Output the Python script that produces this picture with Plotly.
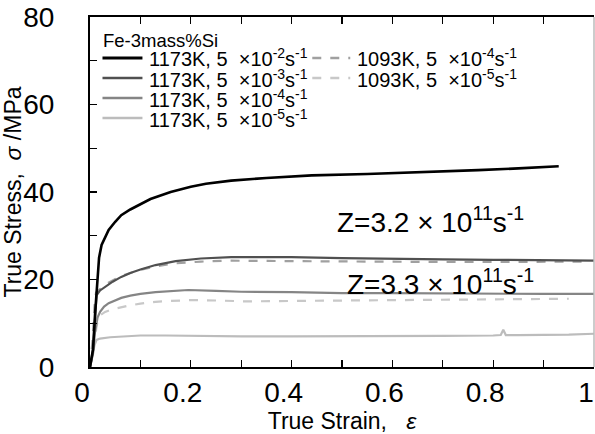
import plotly.graph_objects as go

# ---- data ----
eps_a = [0, 0.006, 0.010, 0.014, 0.018, 0.023, 0.03, 0.037, 0.05, 0.062, 0.08, 0.096, 0.12, 0.16, 0.2, 0.23, 0.28, 0.35, 0.44, 0.55, 0.64, 0.77, 0.85, 0.93]
sig_a = [0, 4, 12, 20, 25, 27.9, 29.8, 31.3, 33.2, 34.7, 36.0, 37.0, 38.4, 40.0, 41.2, 41.9, 42.6, 43.2, 43.8, 44.1, 44.4, 45.0, 45.4, 45.9]

eps_b = [0, 0.006, 0.010, 0.013, 0.02, 0.03, 0.045, 0.062, 0.08, 0.10, 0.13, 0.17, 0.22, 0.28, 0.4, 0.5, 0.6, 0.7, 0.8, 0.9, 1.0]
sig_b = [0, 4, 11, 16.4, 17.5, 18.3, 19.5, 20.6, 21.5, 22.3, 23.3, 24.2, 24.8, 25.1, 25.1, 24.9, 24.7, 24.6, 24.5, 24.4, 24.3]

eps_c = [0, 0.006, 0.010, 0.015, 0.02, 0.028, 0.037, 0.05, 0.062, 0.08, 0.10, 0.13, 0.16, 0.195, 0.25, 0.3, 0.4, 0.5, 0.6, 0.7, 0.8, 0.9, 1.0]
sig_c = [0, 3, 8, 11.3, 12.6, 13.8, 14.6, 15.3, 15.8, 16.3, 16.7, 17.1, 17.4, 17.6, 17.4, 17.2, 17.1, 16.9, 16.9, 16.8, 16.8, 16.7, 16.7]

eps_d = [0, 0.005, 0.009, 0.013, 0.02, 0.04, 0.07, 0.1, 0.15, 0.2, 0.3, 0.4, 0.5, 0.6, 0.7, 0.8, 0.815, 0.82, 0.825, 0.85, 0.9, 0.95, 1.0]
sig_d = [0, 2.5, 5, 6.2, 6.5, 6.8, 7.0, 7.2, 7.2, 7.1, 7.0, 7.0, 7.0, 7.1, 7.1, 7.2, 7.3, 8.5, 7.3, 7.3, 7.3, 7.4, 7.6]

eps_e = [0, 0.005, 0.009, 0.012, 0.02, 0.03, 0.045, 0.06, 0.08, 0.10, 0.13, 0.17, 0.22, 0.28, 0.4, 0.5, 0.6, 0.7, 0.8, 0.9, 0.99]
sig_e = [0, 6, 14, 17, 17.8, 18.8, 19.8, 20.7, 21.5, 22.2, 23.0, 23.7, 24.1, 24.3, 24.2, 24.1, 24.0, 24.0, 24.0, 24.0, 24.1]

eps_f = [0, 0.006, 0.010, 0.015, 0.02, 0.03, 0.045, 0.062, 0.08, 0.10, 0.13, 0.16, 0.2, 0.25, 0.31, 0.4, 0.5, 0.6, 0.7, 0.8, 0.9, 0.95]
sig_f = [0, 3, 7, 10.5, 11.8, 12.6, 13.2, 13.7, 14.1, 14.5, 14.9, 15.1, 15.3, 15.2, 15.0, 15.1, 15.2, 15.3, 15.3, 15.4, 15.5, 15.6]

names = [
    "1173K, 5  \u00d710<sup>-2</sup>s<sup>-1</sup>",
    "1173K, 5  \u00d710<sup>-3</sup>s<sup>-1</sup>",
    "1173K, 5  \u00d710<sup>-4</sup>s<sup>-1</sup>",
    "1173K, 5  \u00d710<sup>-5</sup>s<sup>-1</sup>",
    "1093K, 5  \u00d710<sup>-4</sup>s<sup>-1</sup>",
    "1093K, 5  \u00d710<sup>-5</sup>s<sup>-1</sup>",
]
legend_title = "Fe-3mass%Si"
z_labels = ["Z=3.2 \u00d7 10<sup>11</sup>s<sup>-1</sup>", "Z=3.3 \u00d7 10<sup>11</sup>s<sup>-1</sup>"]
z_pos = [(0.675, 33.6), (0.695, 19.4)]

FONT = "Liberation Sans, Arial, sans-serif"

colors = ["#000000", "#505050", "#858585", "#bcbcbc", "#a0a0a0", "#c8c8c8"]
dashes = ["solid", "solid", "solid", "solid", "dash", "dash"]
widths = [2.6, 2.2, 2.2, 2.2, 2.2, 2.2]
xs = [eps_a, eps_b, eps_c, eps_d, eps_e, eps_f]
ys = [sig_a, sig_b, sig_c, sig_d, sig_e, sig_f]

# plot-area geometry (pixels) used to place the hand-built legend
L, R, T, B = 89.5, 594.0, 17.0, 367.0
def px(x):
    return (x - L) / (R - L)
def py(y):
    return (B - y) / (B - T)

fig = go.Figure()
for i in [3, 5, 2, 4, 1, 0]:
    fig.add_trace(go.Scatter(
        x=xs[i], y=ys[i], mode="lines", name=names[i], showlegend=False,
        line=dict(color=colors[i], width=widths[i], dash=dashes[i]),
    ))

for txt, (zx, zy) in zip(z_labels, z_pos):
    fig.add_annotation(x=zx, y=zy, xref="x", yref="y", text=txt, showarrow=False,
                       font=dict(family=FONT, size=28, color="black"))

# legend (two columns) built from names/colours
LEG_FS = 20
fig.add_annotation(x=px(101), y=py(40), xref="paper", yref="paper", text=legend_title,
                   showarrow=False, xanchor="left", yanchor="middle",
                   font=dict(family=FONT, size=18.5, color="black"))
col_pos = [(102, 142, 147, 58), (102, 142, 147, 78), (102, 142, 147, 98), (102, 142, 147, 118),
           (312, 350, 355, 58), (312, 350, 355, 78)]
for i, (x0, x1, xt, yy) in enumerate(col_pos):
    fig.add_shape(type="line", xref="paper", yref="paper", x0=px(x0), x1=px(x1), y0=py(yy), y1=py(yy),
                  line=dict(color=colors[i], width=widths[i] + 0.4, dash=dashes[i]))
    fig.add_annotation(x=px(xt), y=py(yy), xref="paper", yref="paper", text=names[i],
                       showarrow=False, xanchor="left", yanchor="middle",
                       font=dict(family=FONT, size=LEG_FS, color="black"))

# light grey right frame edge
fig.add_shape(type="line", xref="paper", yref="paper", x0=1, x1=1, y0=0, y1=1,
              line=dict(color="#bbbbbb", width=1.5))

fig.update_layout(
    width=595, height=434,
    margin=dict(l=89.5, r=1, t=17, b=67),
    paper_bgcolor="white", plot_bgcolor="white",
    font=dict(family=FONT, color="black"),
    showlegend=False,
    hovermode=False,
    xaxis=dict(
        range=[0, 1], dtick=0.2, tick0=0,
        ticks="inside", ticklen=7, tickwidth=1.2, tickcolor="black",
        minor=dict(dtick=0.1, ticks="inside", ticklen=7, tickwidth=1.2, tickcolor="black"),
        showline=True, linecolor="black", linewidth=2, mirror="ticks",
        showgrid=False, zeroline=False, automargin=False,
        tickfont=dict(size=28, family=FONT),
        ticklabelshift=-8, ticklabelstandoff=-1, ticklabeloverflow="allow",
        title=dict(text="True Strain,   <i>\u03b5</i>", font=dict(size=23, family=FONT), standoff=9),
    ),
    yaxis=dict(
        range=[0, 80], dtick=20, tick0=0,
        ticks="inside", ticklen=7, tickwidth=1.2, tickcolor="black",
        minor=dict(dtick=10, ticks="inside", ticklen=7, tickwidth=1.2, tickcolor="black"),
        showline=True, linecolor="black", linewidth=2, mirror=False,
        showgrid=False, zeroline=False, automargin=False,
        tickfont=dict(size=28, family=FONT),
        ticklabelstandoff=28, ticklabeloverflow="allow",
        title=dict(text="True Stress,  <i>\u03c3</i> /MPa", font=dict(size=23, family=FONT), standoff=0),
    ),
)

fig.write_html("out.html", config={"displayModeBar": False, "staticPlot": True},
               post_script="document.body.style.margin='0';document.body.style.overflow='hidden';")
